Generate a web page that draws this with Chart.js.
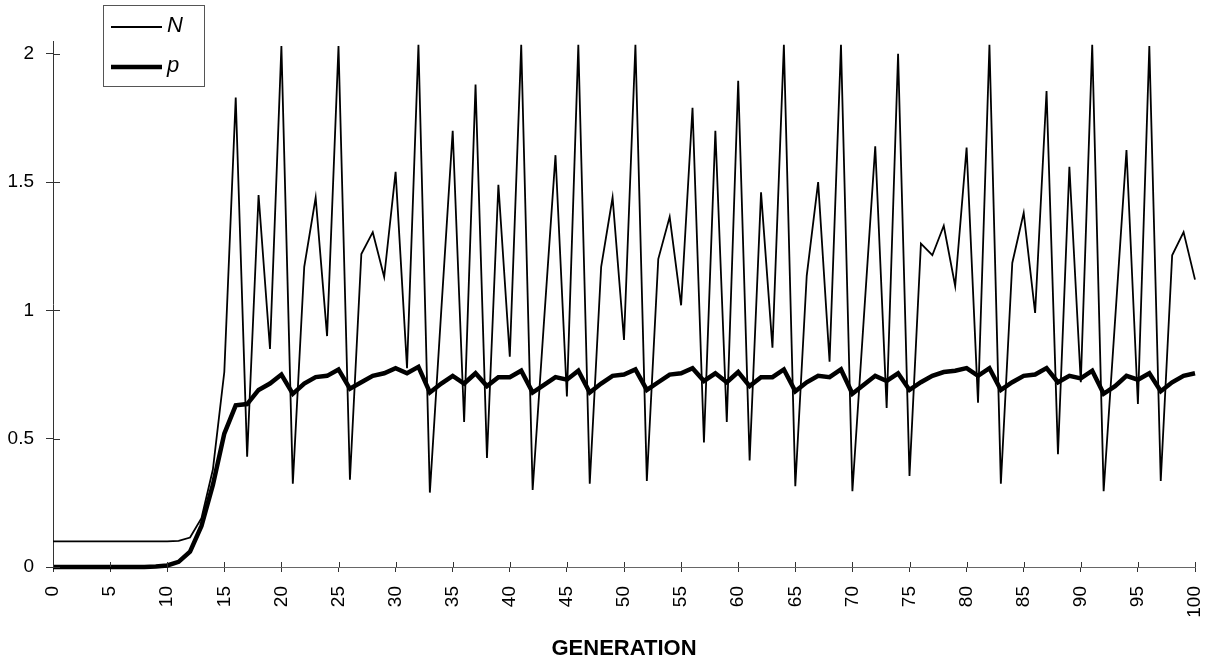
<!DOCTYPE html>
<html>
<head>
<meta charset="utf-8">
<title>N et p par génération</title>
<script src="https://cdn.jsdelivr.net/npm/chart.js@4.4.0/dist/chart.umd.min.js"></script>
<style>
  body { margin: 0; background: #fff; }
  canvas { display: block; }
</style>
</head>
<body>
<canvas id="graphique" width="1212" height="663"></canvas>
<script>
// generations (x)
const generations = [
    0, 1, 2, 3, 4, 5, 6, 7, 8, 9,
    10, 11, 12, 13, 14, 15, 16, 17, 18, 19,
    20, 21, 22, 23, 24, 25, 26, 27, 28, 29,
    30, 31, 32, 33, 34, 35, 36, 37, 38, 39,
    40, 41, 42, 43, 44, 45, 46, 47, 48, 49,
    50, 51, 52, 53, 54, 55, 56, 57, 58, 59,
    60, 61, 62, 63, 64, 65, 66, 67, 68, 69,
    70, 71, 72, 73, 74, 75, 76, 77, 78, 79,
    80, 81, 82, 83, 84, 85, 86, 87, 88, 89,
    90, 91, 92, 93, 94, 95, 96, 97, 98, 99,
    100
];

// population size N
const valeursN = [
    0.1, 0.1, 0.1, 0.1, 0.1, 0.1, 0.1, 0.1, 0.1, 0.1,
    0.1, 0.102, 0.115, 0.19, 0.38, 0.76, 1.83, 0.43, 1.45, 0.85,
    2.03, 0.325, 1.17, 1.44, 0.90, 2.03, 0.34, 1.22, 1.305, 1.13,
    1.54, 0.775, 2.035, 0.29, 1.0, 1.70, 0.565, 1.88, 0.425, 1.49,
    0.82, 2.035, 0.30, 0.96, 1.605, 0.665, 2.035, 0.325, 1.17, 1.44,
    0.885, 2.035, 0.335, 1.20, 1.365, 1.02, 1.79, 0.485, 1.70, 0.565,
    1.895, 0.415, 1.46, 0.855, 2.035, 0.315, 1.135, 1.50, 0.80, 2.035,
    0.295, 0.97, 1.64, 0.62, 2.0, 0.355, 1.26, 1.215, 1.33, 1.095,
    1.635, 0.64, 2.035, 0.325, 1.185, 1.38, 0.99, 1.855, 0.44, 1.56,
    0.72, 2.035, 0.295, 0.96, 1.625, 0.635, 2.03, 0.335, 1.215, 1.305,
    1.12
];

// allele frequency p
const valeursP = [
    0, 0, 0, 0, 0, 0, 0, 0, 0, 0.002,
    0.006, 0.02, 0.06, 0.16, 0.32, 0.52, 0.63, 0.635, 0.69, 0.715,
    0.75, 0.675, 0.715, 0.74, 0.745, 0.77, 0.695, 0.72, 0.745, 0.755,
    0.775, 0.755, 0.78, 0.68, 0.715, 0.745, 0.715, 0.755, 0.705, 0.74,
    0.74, 0.765, 0.68, 0.71, 0.74, 0.73, 0.765, 0.68, 0.715, 0.745,
    0.75, 0.77, 0.69, 0.72, 0.75, 0.755, 0.775, 0.725, 0.755, 0.72,
    0.76, 0.705, 0.74, 0.74, 0.77, 0.685, 0.72, 0.745, 0.74, 0.77,
    0.675, 0.71, 0.745, 0.725, 0.755, 0.69, 0.72, 0.745, 0.76, 0.765,
    0.775, 0.745, 0.775, 0.69, 0.72, 0.745, 0.75, 0.775, 0.72, 0.745,
    0.735, 0.765, 0.675, 0.705, 0.745, 0.73, 0.755, 0.685, 0.72, 0.745,
    0.755
];

const ticksX = [0, 5, 10, 15, 20, 25, 30, 35, 40, 45, 50, 55, 60, 65, 70, 75, 80, 85, 90, 95, 100];
const ticksY = [0, 0.5, 1, 1.5, 2];
const etiquettesY = ["0", "0.5", "1", "1.5", "2"];

const police = "'Liberation Sans', Arial, Helvetica, sans-serif";

// small tick halves inside the plot (the ticks cross the axes)
const ticksInterieurs = {
    id: "ticksInterieurs",
    afterDraw(chart) {
        const ctx = chart.ctx;
        const x = chart.scales.x;
        const y = chart.scales.y;
        ctx.save();
        ctx.strokeStyle = "#333";
        ctx.lineWidth = 1;
        ctx.beginPath();
        x.ticks.forEach(t => {
            const px = Math.round(x.getPixelForValue(t.value)) + 0.5;
            ctx.moveTo(px, y.bottom);
            ctx.lineTo(px, y.bottom - 5);
        });
        y.ticks.forEach(t => {
            const py = Math.round(y.getPixelForValue(t.value)) + 0.5;
            ctx.moveTo(x.left, py);
            ctx.lineTo(x.left + 7, py);
        });
        ctx.stroke();
        ctx.restore();
    }
};

// boxed legend in the upper left corner
const legendeEncadree = {
    id: "legendeEncadree",
    afterDraw(chart) {
        const ctx = chart.ctx;
        const box = { x: 103, y: 5, w: 101, h: 81 };
        ctx.save();
        ctx.fillStyle = "#fff";
        ctx.fillRect(box.x, box.y, box.w, box.h);
        ctx.strokeStyle = "#555";
        ctx.lineWidth = 1;
        ctx.strokeRect(box.x + 0.5, box.y + 0.5, box.w, box.h);
        const lignesY = [27, 67];
        chart.data.datasets.forEach((ds, i) => {
            const ly = lignesY[i];
            ctx.strokeStyle = ds.borderColor;
            ctx.lineWidth = ds.borderWidth;
            ctx.beginPath();
            ctx.moveTo(111, ly);
            ctx.lineTo(162, ly);
            ctx.stroke();
            ctx.fillStyle = "#000";
            ctx.font = "italic 22px " + police;
            ctx.textBaseline = "middle";
            ctx.textAlign = "left";
            ctx.fillText(ds.label, 167, ly - 1);
        });
        ctx.restore();
    }
};

const config = {
    type: "line",
    data: {
        datasets: [
            {
                label: "N",
                data: generations.map((g, i) => ({ x: g, y: valeursN[i] })),
                borderColor: "#000",
                borderWidth: 1.8,
                pointRadius: 0,
                tension: 0,
                fill: false
            },
            {
                label: "p",
                data: generations.map((g, i) => ({ x: g, y: valeursP[i] })),
                borderColor: "#000",
                borderWidth: 4.5,
                pointRadius: 0,
                tension: 0,
                fill: false
            }
        ]
    },
    options: {
        responsive: false,
        animation: false,
        clip: false,
        layout: { padding: { top: 41, right: 17, left: 0, bottom: 0 } },
        plugins: {
            legend: { display: false },
            tooltip: { enabled: false }
        },
        scales: {
            x: {
                type: "linear",
                min: 0,
                max: 100,
                afterBuildTicks: axis => { axis.ticks = ticksX.map(v => ({ value: v })); },
                afterFit: axis => {
                    axis.height = 96;
                    axis.paddingLeft = 0;
                    axis.paddingRight = 0;
                },
                grid: { drawOnChartArea: false, tickLength: 5, tickColor: "#333" },
                border: { color: "#666", width: 1, dash: [5, 3] },
                ticks: {
                    autoSkip: false,
                    minRotation: 90,
                    maxRotation: 90,
                    padding: 14,
                    color: "#000",
                    font: { family: police, size: 19 }
                },
                title: {
                    display: true,
                    text: "GENERATION",
                    color: "#000",
                    font: { family: police, size: 22, weight: "bold" },
                    padding: { top: 0, bottom: 1 }
                }
            },
            y: {
                type: "linear",
                min: 0,
                max: 2.05,
                afterBuildTicks: axis => { axis.ticks = ticksY.map(v => ({ value: v })); },
                afterFit: axis => {
                    axis.width = 53;
                    axis.paddingTop = 0;
                    axis.paddingBottom = 0;
                },
                grid: { drawOnChartArea: false, tickLength: 7, tickColor: "#333" },
                border: { color: "#333", width: 1 },
                ticks: {
                    padding: 12,
                    color: "#000",
                    font: { family: police, size: 19 },
                    callback: value => etiquettesY[ticksY.indexOf(value)]
                }
            }
        }
    },
    plugins: [ticksInterieurs, legendeEncadree]
};

new Chart(document.querySelector("#graphique"), config);
</script>
</body>
</html>
